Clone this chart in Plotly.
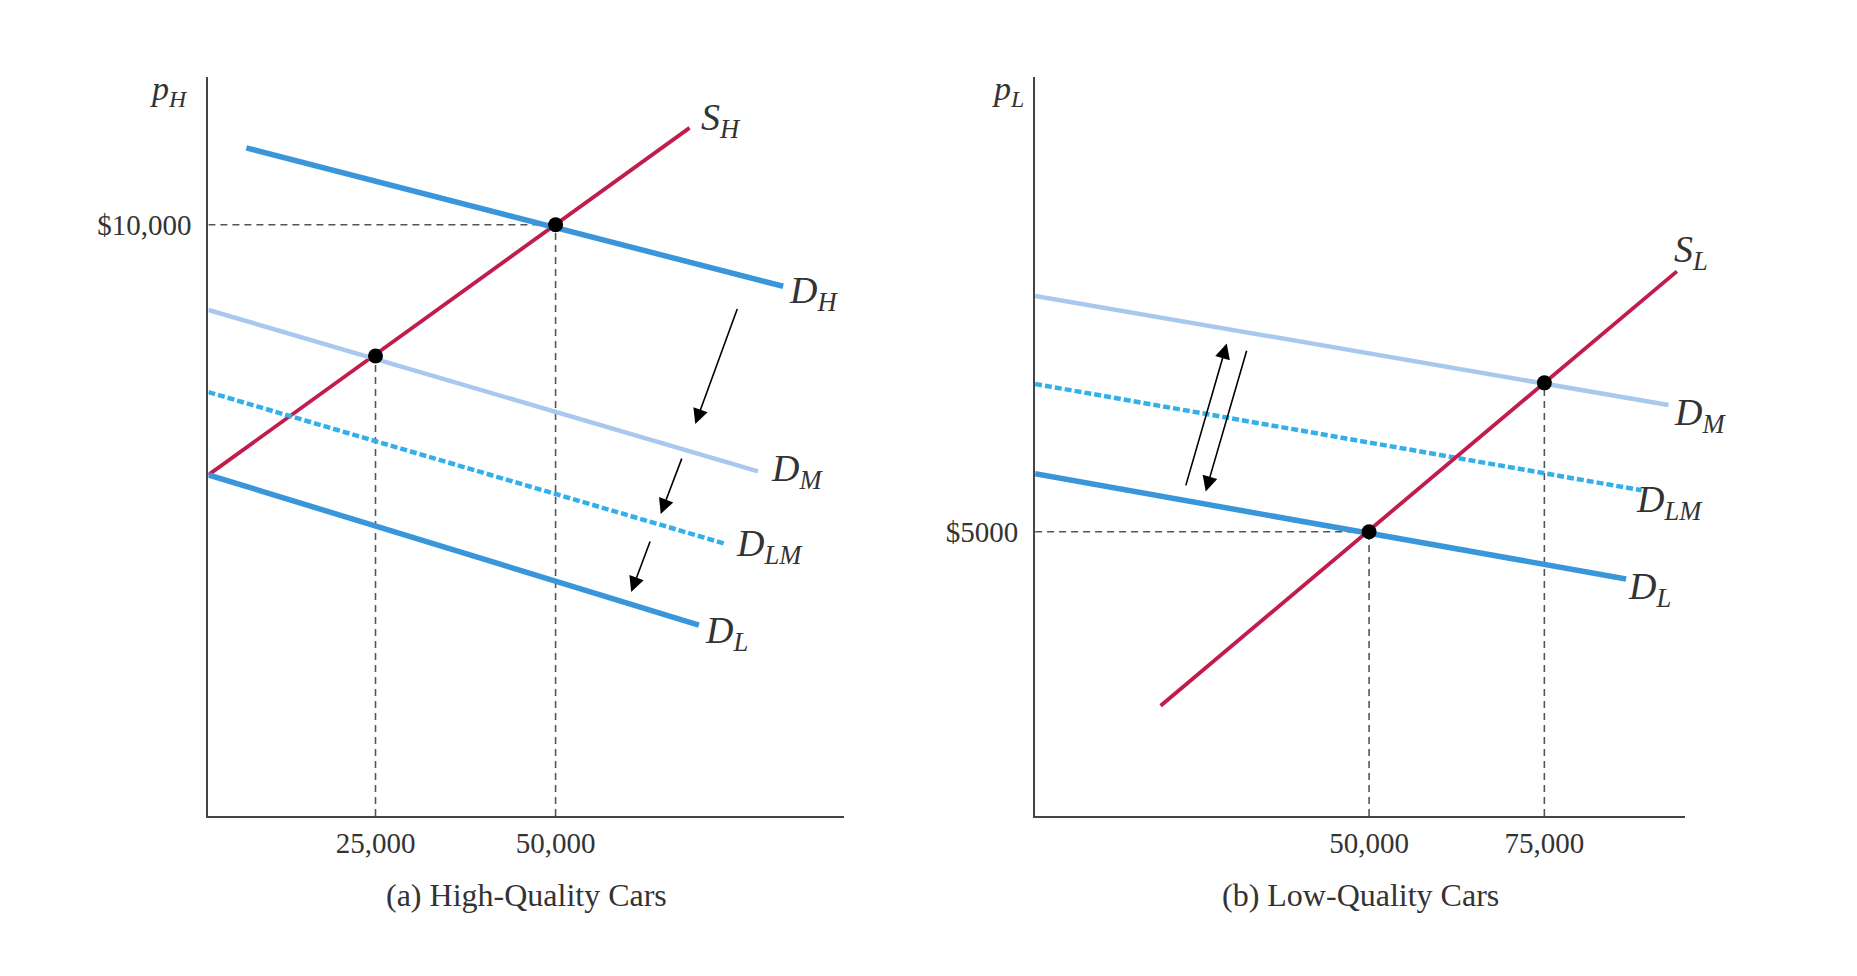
import plotly.graph_objects as go

# page body has an 8px margin; size the figure to fit inside the window
OFF = 8
W, H = 1857 - 2 * OFF, 976 - 2 * OFF
FONT = "Liberation Serif"
TXT = "#333333"
RED = "#C11C4C"
BLUE = "#3A96DB"
LIGHT = "#A9C8EE"
DOT = "#33B0EA"
GUIDE = "#555555"

# ---------------- Panel (a): High-Quality Cars ----------------
a_xrange = [1800, 90100]
a_yrange = [0, 12500]
a_SH_q = [1800, 68600];  a_SH_p = [5770, 11640]
a_DH_q = [7070, 81600];  a_DH_p = [11300, 8960]
a_DM_q = [1800, 78100];  a_DM_p = [8560, 5830]
a_DLM_q = [1800, 73400]; a_DLM_p = [7170, 4610]
a_DL_q = [1800, 69900];  a_DL_p = [5770, 3230]
a_eq_q = [25000, 50000]; a_eq_p = [7780, 10000]
a_xticks = [25000, 50000]; a_xticktext = ["25,000", "50,000"]
a_yticks = [10000]; a_yticktext = ["$10,000"]
a_arrows = [(75300, 8600, 69400, 6630),
            (67600, 6070, 64600, 5110),
            (63200, 4670, 60500, 3790)]
a_labels = [("<i>S<sub>H</sub></i>", 69900, 11780),
            ("<i>D<sub>H</sub></i>", 82200, 8840),
            ("<i>D<sub>M</sub></i>", 79600, 5830),
            ("<i>D<sub>LM</sub></i>", 74800, 4570),
            ("<i>D<sub>L</sub></i>", 70500, 3090)]
a_axis_label = ("<i>p<sub>H</sub></i>", -6600, 12260)
a_title = "(a) High-Quality Cars"

# ---------------- Panel (b): Low-Quality Cars ----------------
b_xrange = [2365, 95100]
b_yrange = [0, 13000]
b_SL_q = [20270, 93900]; b_SL_p = [1940, 9580]
b_DM_q = [2365, 92700];  b_DM_p = [9150, 7230]
b_DLM_q = [2365, 88850]; b_DLM_p = [7600, 5730]
b_DL_q = [2365, 86650];  b_DL_p = [6020, 4170]
b_eq_q = [50000, 75000]; b_eq_p = [5000, 7620]
b_xticks = [50000, 75000]; b_xticktext = ["50,000", "75,000"]
b_yticks = [5000]; b_yticktext = ["$5000"]
b_arrows = [(23800, 5790, 29700, 8310),
            (32600, 8210, 26700, 5710)]
b_labels = [("<i>S<sub>L</sub></i>", 93200, 9920),
            ("<i>D<sub>M</sub></i>", 93200, 7060),
            ("<i>D<sub>LM</sub></i>", 87800, 5520),
            ("<i>D<sub>L</sub></i>", 86600, 4000)]
b_axis_label = ("<i>p<sub>L</sub></i>", -4100, 12750)
b_title = "(b) Low-Quality Cars"

# layout geometry (paper fractions, from window pixel positions)
a_xdom = [(208.4 - OFF) / W, (844.4 - OFF) / W]
b_xdom = [(1035.1 - OFF) / W, (1685.3 - OFF) / W]
ydom = [1 - (816.0 - OFF) / H, 1 - (77.0 - OFF) / H]
title_y = 1 - (895.0 - OFF) / H


def to_paper(x, y, xr, yr, xd):
    px = xd[0] + (x - xr[0]) / (xr[1] - xr[0]) * (xd[1] - xd[0])
    py = ydom[0] + (y - yr[0]) / (yr[1] - yr[0]) * (ydom[1] - ydom[0])
    return px, py


fig = go.Figure()


def add_panel(xref, yref, xr, yr, xd, curves, eq_q, eq_p, hguide_i, arrows, labels, axis_label):
    guide = dict(color=GUIDE, width=1.6, dash="7px,5px")
    fig.add_trace(go.Scatter(x=[xr[0], eq_q[hguide_i]], y=[eq_p[hguide_i], eq_p[hguide_i]],
                             mode="lines", xaxis=xref, yaxis=yref, line=guide,
                             showlegend=False, hoverinfo="skip"))
    for q, p in zip(eq_q, eq_p):
        fig.add_trace(go.Scatter(x=[q, q], y=[yr[0], p], mode="lines", xaxis=xref, yaxis=yref,
                                 line=guide, showlegend=False, hoverinfo="skip"))
    for q, p, color, width, dash in curves:
        fig.add_trace(go.Scatter(x=q, y=p, mode="lines", xaxis=xref, yaxis=yref,
                                 line=dict(color=color, width=width, dash=dash),
                                 showlegend=False, hoverinfo="skip"))
    fig.add_trace(go.Scatter(x=eq_q, y=eq_p, mode="markers", xaxis=xref, yaxis=yref,
                             marker=dict(color="black", size=15),
                             showlegend=False, hoverinfo="skip"))
    for tq, tp, hq, hp in arrows:
        fig.add_annotation(x=hq, y=hp, ax=tq, ay=tp, xref=xref, yref=yref,
                           axref=xref, ayref=yref, text="", showarrow=True,
                           arrowhead=2, arrowsize=1.9, arrowwidth=1.6,
                           arrowcolor="black")
    for txt, q, p in labels:
        px, py = to_paper(q, p, xr, yr, xd)
        fig.add_annotation(x=px, y=py, xref="paper", yref="paper", text=txt,
                           showarrow=False, xanchor="left", yanchor="middle",
                           font=dict(family=FONT, size=38, color=TXT))
    txt, q, p = axis_label
    px, py = to_paper(q, p, xr, yr, xd)
    fig.add_annotation(x=px, y=py, xref="paper", yref="paper", text=txt,
                       showarrow=False, xanchor="left", yanchor="middle",
                       font=dict(family=FONT, size=34, color=TXT))


add_panel("x", "y", a_xrange, a_yrange, a_xdom,
          [(a_SH_q, a_SH_p, RED, 3.8, "solid"),
           (a_DM_q, a_DM_p, LIGHT, 4.5, "solid"),
           (a_DLM_q, a_DLM_p, DOT, 4.5, "7px,3px"),
           (a_DL_q, a_DL_p, BLUE, 5.5, "solid"),
           (a_DH_q, a_DH_p, BLUE, 5.5, "solid")],
          a_eq_q, a_eq_p, 1, a_arrows, a_labels, a_axis_label)

add_panel("x2", "y2", b_xrange, b_yrange, b_xdom,
          [(b_DM_q, b_DM_p, LIGHT, 4.5, "solid"),
           (b_DLM_q, b_DLM_p, DOT, 4.5, "7px,3px"),
           (b_DL_q, b_DL_p, BLUE, 5.5, "solid"),
           (b_SL_q, b_SL_p, RED, 3.8, "solid")],
          b_eq_q, b_eq_p, 0, b_arrows, b_labels, b_axis_label)

for title, xd in [(a_title, a_xdom), (b_title, b_xdom)]:
    fig.add_annotation(x=(xd[0] + xd[1]) / 2, y=title_y, xref="paper", yref="paper",
                       text=title, showarrow=False, xanchor="center", yanchor="middle",
                       font=dict(family=FONT, size=32, color=TXT))

axis_common = dict(showline=True, linecolor="#444444", linewidth=2, showgrid=False,
                   zeroline=False, ticks="", automargin=False,
                   tickfont=dict(family=FONT, size=29, color=TXT))
yaxis_extra = dict(ticklabelstandoff=9)

fig.update_layout(
    width=W, height=H, autosize=False,
    margin=dict(l=0, r=0, t=0, b=0),
    paper_bgcolor="white", plot_bgcolor="white",
    xaxis=dict(domain=a_xdom, range=a_xrange, anchor="y", tickvals=a_xticks,
               ticktext=a_xticktext, **axis_common),
    yaxis=dict(domain=ydom, range=a_yrange, anchor="x", tickvals=a_yticks,
               ticktext=a_yticktext, **axis_common, **yaxis_extra),
    xaxis2=dict(domain=b_xdom, range=b_xrange, anchor="y2", tickvals=b_xticks,
                ticktext=b_xticktext, **axis_common),
    yaxis2=dict(domain=ydom, range=b_yrange, anchor="x2", tickvals=b_yticks,
                ticktext=b_yticktext, **axis_common, **yaxis_extra),
)

fig.write_html("out.html")
